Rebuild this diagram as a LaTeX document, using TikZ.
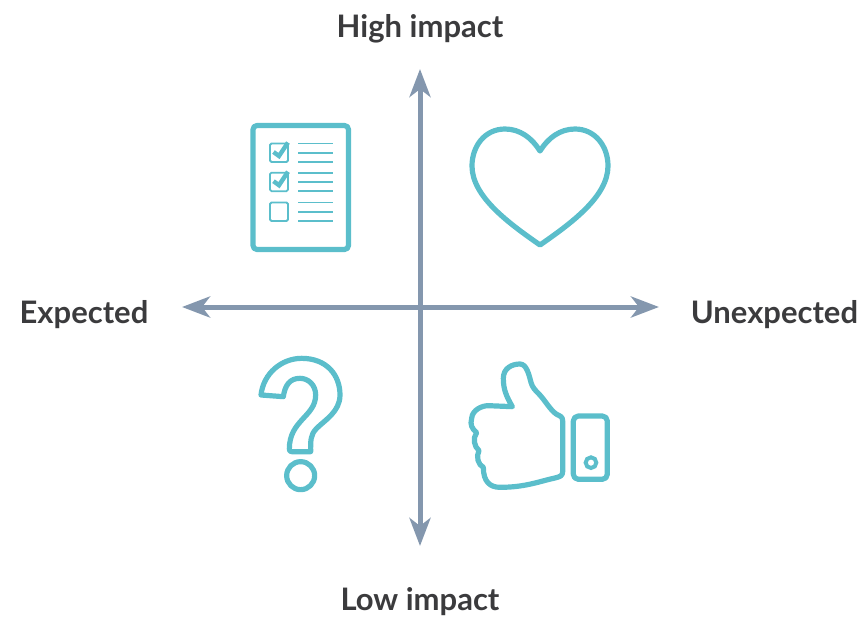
\documentclass[tikz,border=0pt]{standalone}
\usepackage{fontspec}
\setmainfont{Lato}
\usetikzlibrary{positioning, arrows.meta}
\definecolor{iconteal}{HTML}{5BBECB}
\definecolor{axisgray}{HTML}{8497AE}
\definecolor{labelgray}{HTML}{3B3B3D}
\tikzset{
    axis/.style={draw=axisgray, line width=5pt, {Stealth[length=28pt,width=21pt,inset=8pt]}-{Stealth[length=28pt,width=21pt,inset=8pt]}},
    icon/.style={draw=iconteal, line width=5.2pt, line join=round},
    thinicon/.style={draw=iconteal, line width=1.8pt},
    axislabel/.style={text=labelgray, font=\fontsize{31}{35}\selectfont\bfseries, inner sep=0pt},
}
\begin{document}
\begin{tikzpicture}[x=1pt,y=-1pt]
    \useasboundingbox (0,0) rectangle (860,624);
    \coordinate (T) at (420,69);
    \coordinate (B) at (420,546);
    \coordinate (L) at (182,307);
    \coordinate (R) at (659,307);
    \draw[axis] (T) -- (B);
    \draw[axis] (L) -- (R);
    \node[axislabel] (high) at (420,28.5) {High impact};
    \node[axislabel] (low) at (420,602) {Low impact};
    \node[axislabel] (expected) at (84,315) {Expected};
    \node[axislabel] (unexpected) at (774.5,315) {Unexpected};
    % checklist
    \draw[icon, rounded corners=4pt] (253,125.5) rectangle (348.5,249.5);
    \foreach \y in {143.5,172.7,202.5}{
        \draw[thinicon, rounded corners=1.5pt] (270,\y) rectangle (288,\y+18.5);
        \foreach \dy in {0,9.2,18.5}
            \draw[thinicon] (298,\y+\dy) -- (333,\y+\dy);
    }
    \foreach \y in {143.5,172.7}
        \draw[draw=iconteal, line width=4.4pt] (273.5,\y+8.5) -- (279,\y+12.5) -- (288,\y-1);
    % heart
    \draw[icon] (540,151) .. controls (548,138) and (560,129) .. (575,129)
        .. controls (595,129) and (608,146) .. (608,166)
        .. controls (608,197) and (570,224) .. (540,245)
        .. controls (510,224) and (472,197) .. (472,166)
        .. controls (472,146) and (485,129) .. (505,129)
        .. controls (520,129) and (532,138) .. (540,151) -- cycle;
    % question mark
    \begin{scope}[shift={(245,345)},scale=0.3333]
        \draw[icon, miter limit=4] (48,150) .. controls (55,85) and (110,40) .. (170,40)
            .. controls (245,40) and (285,90) .. (285,150)
            .. controls (285,200) and (240,225) .. (215,250)
            .. controls (195,270) and (197,290) .. (197,320)
            -- (140,320) .. controls (135,320) and (133,317) .. (133,312)
            .. controls (133,225) and (212,215) .. (212,150)
            .. controls (212,120) and (190,100) .. (165,100)
            .. controls (135,100) and (120,120) .. (115,155) -- cycle;
        \draw[icon] (167,392) circle (42);
    \end{scope}
    % thumb
    \begin{scope}[shift={(455,350)},scale=0.3333]
        \draw[icon] (172,170) .. controls (155,140) and (145,120) .. (145,85)
            .. controls (145,55) and (170,42) .. (195,42)
            .. controls (215,42) and (222,75) .. (228,97)
            .. controls (232,112) and (240,120) .. (250,130)
            .. controls (270,150) and (285,180) .. (305,193)
            .. controls (315,198) and (323,200) .. (323,212)
            -- (323,365) .. controls (323,378) and (315,380) .. (300,384)
            .. controls (250,395) and (210,412) .. (135,412)
            .. controls (105,412) and (85,395) .. (85,352)
            .. controls (70,345) and (62,320) .. (72,302)
            .. controls (58,290) and (52,265) .. (65,248)
            .. controls (50,235) and (45,225) .. (50,205)
            .. controls (52,180) and (80,167) .. (100,167) -- cycle;
        \draw[icon, rounded corners=5pt] (355,198) rectangle (457,388);
        \draw[draw=iconteal, line width=4pt] (408,338) circle (16);
    \end{scope}
\end{tikzpicture}
\end{document}
